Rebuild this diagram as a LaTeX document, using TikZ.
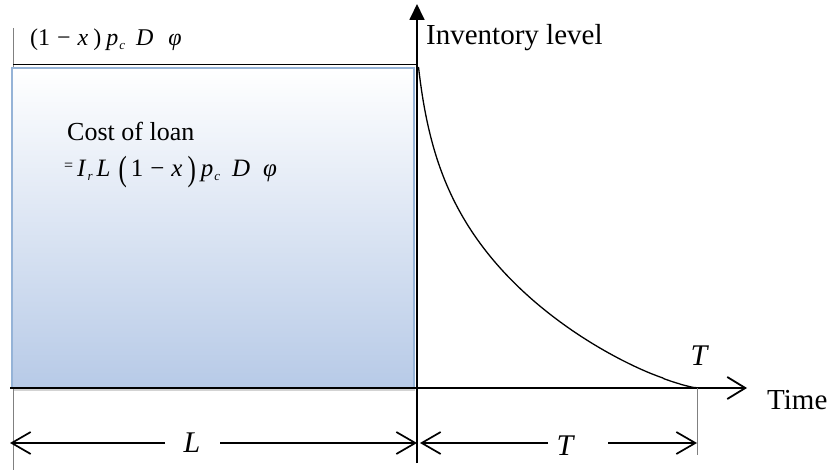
\documentclass[tikz,border=0pt]{standalone}
\usepackage{fontspec}
\setmainfont{Liberation Serif}
\usetikzlibrary{arrows.meta,shadows}
\definecolor{boxborder}{RGB}{149,179,215}
\definecolor{boxfill}{RGB}{183,202,231}
\newcommand{\sbx}[1]{\raisebox{-4pt}{\fontsize{13}{13}\selectfont\textit{#1}}}
\newcommand{\tallparen}[1]{\raisebox{-3.5pt}{\scalebox{1}[1.4]{#1}}}
\begin{document}
\begin{tikzpicture}[x=1pt,y=-1pt,
  axis/.style={line width=1.8pt},
  barb/.style={-{Straight Barb[length=18pt,width=22pt,line width=1.8pt]}},
  dimline/.style={line width=1.7pt,-{Straight Barb[length=19pt,width=22pt,line width=1.7pt]}},
  guide/.style={gray,line width=0.8pt},
  lab/.style={inner sep=0pt,font=\fontsize{29}{33}\selectfont},
  ilab/.style={inner sep=0pt,font=\fontsize{30}{34}\selectfont\itshape}]
\useasboundingbox (0,0) rectangle (833,470);
% guide lines
\coordinate (gtop) at (13,28);
\coordinate (gbot) at (13,470);
\draw[guide] (gtop) -- (gbot);
\coordinate (tl) at (13,65);
\coordinate (tr) at (417,65);
\draw[line width=1pt] (tl) -- (tr);
% box
\shade[top color=white,bottom color=boxfill,middle color=boxfill!50,
  drop shadow={shadow xshift=1pt,shadow yshift=-3pt,opacity=0.35}]
  (12,68) rectangle (414,388);
\draw[boxborder,line width=2pt] (12,68) rectangle (414,388);
% axes
\coordinate (o) at (417,388);
\coordinate (ybot) at (417,463);
\coordinate (ytop) at (417,4);
\coordinate (xl) at (10,388);
\coordinate (xr) at (747,388);
\draw[axis,-{Triangle[length=16pt,width=15pt]}] (ybot) -- (ytop);
\draw[axis,barb] (xl) -- (xr);
% curve
\coordinate (cstart) at (418.5,67);
\coordinate (cend) at (706,388);
\draw[line width=1.3pt] (cstart) -- plot[domain=0.002:0.99,samples=200,smooth]
  ({418.5+279*\x},{388-321*exp(1.3*ln(1-\x)-0.25*ln(1+25.5*\x))}) -- (cend);
% T guide
\coordinate (tg1) at (697,388);
\coordinate (tg2) at (697,455);
\draw[guide] (tg1) -- (tg2);
% labels
\node[ilab] (tlab) at (699,356) {T};
\node[lab,anchor=west] (time) at (767,400) {Time};
\node[lab,anchor=west] (inv) at (426,38) {Inventory level};
\node[inner sep=0pt,anchor=base west,font=\fontsize{24}{28}\selectfont] (top) at (30,46)
  {(1\hspace{7pt}−\hspace{7pt}\textit{x}\hspace{5pt})\hspace{5pt}\textit{p}\hspace{1pt}\sbx{c}\hspace{11pt}\textit{D}\hspace{15pt}\textit{φ}};
\node[inner sep=0pt,anchor=west,font=\fontsize{26}{30}\selectfont] (cost) at (67,131) {Cost of loan};
\node[inner sep=0pt,anchor=base west,font=\fontsize{25}{29}\selectfont] (frm2) at (64,177)
  {\raisebox{6pt}{\fontsize{16}{16}\selectfont=}\hspace{4pt}\textit{I}\hspace{1pt}\sbx{r}\hspace{4pt}\textit{L}\hspace{8pt}\tallparen{(}\hspace{4pt}1\hspace{7pt}−\hspace{7pt}\textit{x}\hspace{5pt}\tallparen{)}\hspace{5pt}\textit{p}\hspace{1pt}\sbx{c}\hspace{12pt}\textit{D}\hspace{13pt}\textit{φ}};
% dimension lines
\coordinate (dl) at (10,443);
\coordinate (dm) at (417,443);
\coordinate (dm2) at (420,443);
\coordinate (dr) at (697,443);
\node[ilab] (llab) at (192,443) {L};
\node[ilab] (tlab2) at (565,446) {T};
\draw[dimline] (165,443) -- (dl);
\draw[dimline] (220,443) -- (dm);
\draw[dimline] (548,443) -- (dm2);
\draw[dimline] (608,443) -- (dr);
\end{tikzpicture}
\end{document}
